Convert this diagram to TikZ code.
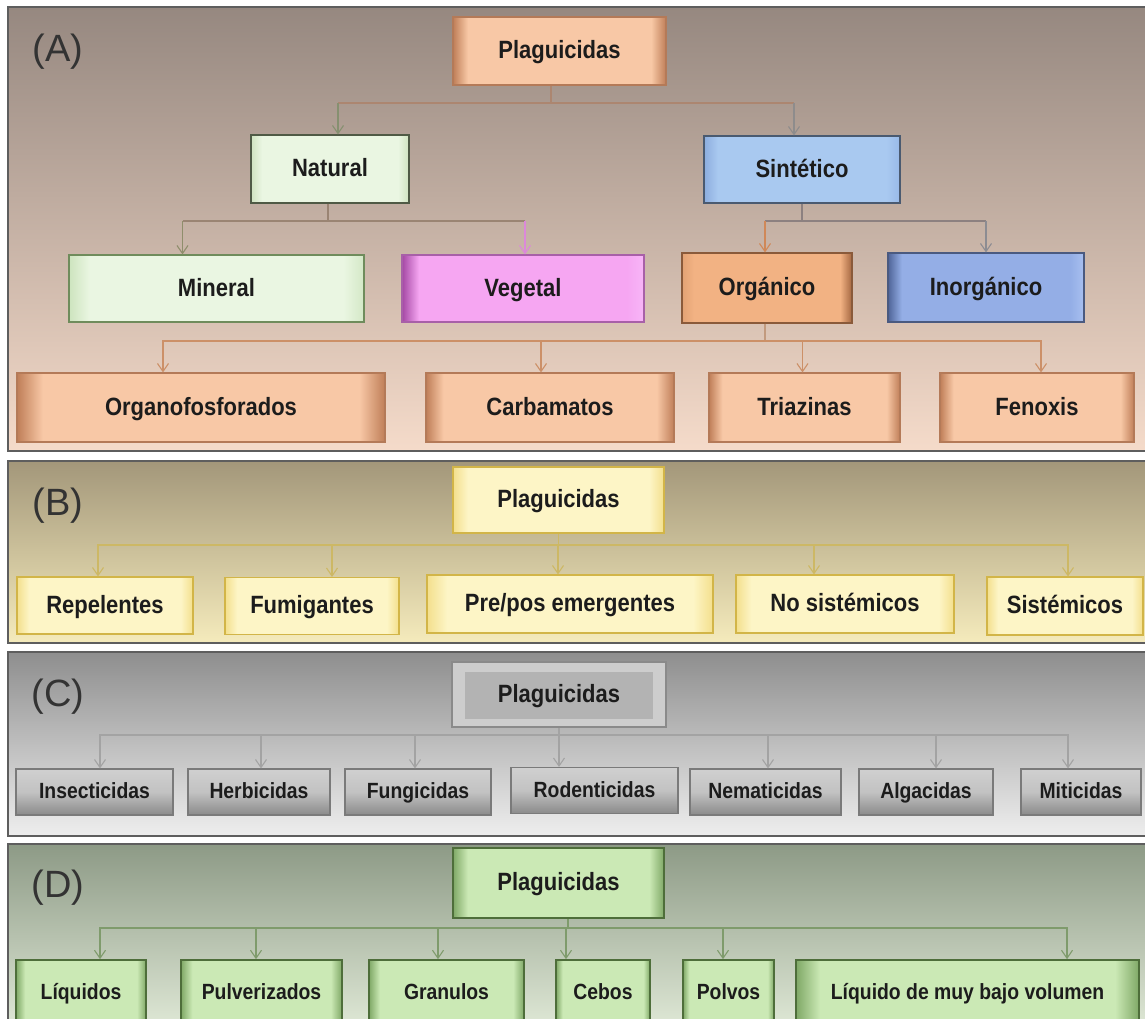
\documentclass[tikz,border=0pt]{standalone}
\usepackage{fontspec}
\setmainfont{Liberation Sans}
\newfontfamily\boxfont{Liberation Sans}[FakeStretch=0.88]
\usetikzlibrary{arrows.meta}
\definecolor{txt}{HTML}{1C1C1C}
\definecolor{lblc}{HTML}{333333}
% box colours
\definecolor{peD}{HTML}{B47A58}\definecolor{peE}{HTML}{BF7E58}\definecolor{peM}{HTML}{F8C8A6}
\definecolor{naD}{HTML}{4F5A45}\definecolor{naE}{HTML}{CFE3C0}\definecolor{naM}{HTML}{EAF6E2}
\definecolor{miD}{HTML}{6F8C5C}\definecolor{miE}{HTML}{CDE4BE}\definecolor{miM}{HTML}{EAF6E2}\definecolor{miR}{HTML}{D3E8C6}
\definecolor{veD}{HTML}{A860A8}\definecolor{veE}{HTML}{A448A4}\definecolor{veM}{HTML}{F6A6F2}\definecolor{veR}{HTML}{F7B6F7}
\definecolor{siD}{HTML}{4A5A70}\definecolor{siE}{HTML}{8CADDE}\definecolor{siM}{HTML}{A9C9F0}\definecolor{siR}{HTML}{98B9E8}
\definecolor{orD}{HTML}{8A5A3A}\definecolor{orE}{HTML}{E2A274}\definecolor{orM}{HTML}{F2B283}\definecolor{orR}{HTML}{A36640}
\definecolor{inD}{HTML}{4A5A80}\definecolor{inE}{HTML}{4F6498}\definecolor{inM}{HTML}{94AEE6}\definecolor{inR}{HTML}{A8C0F0}
\definecolor{yeD}{HTML}{D2B548}\definecolor{yeE}{HTML}{F3DF8C}\definecolor{yeM}{HTML}{FDF5C6}
\definecolor{grD}{HTML}{7A7A7A}\definecolor{grT}{HTML}{D0D0D0}\definecolor{grB}{HTML}{8A8A8A}\definecolor{grM}{HTML}{C2C2C2}
\definecolor{gpD}{HTML}{8A8A8A}\definecolor{gpF}{HTML}{CDCDCD}\definecolor{gpI}{HTML}{B3B3B3}
\definecolor{dgD}{HTML}{4E6E3A}\definecolor{dgE}{HTML}{7FA866}\definecolor{dgM}{HTML}{CBE9B5}
% shading helper colours
\colorlet{bvL}{white}\colorlet{bvM}{white}\colorlet{bvR}{white}
\pgfdeclarehorizontalshading[bvL,bvM,bvR]{bevelsh}{100bp}{color(0bp)=(bvL); color(25bp)=(bvL); color(28.5bp)=(bvM); color(71.5bp)=(bvM); color(75bp)=(bvR); color(100bp)=(bvR)}
% panel colours
\definecolor{paT}{HTML}{968880}\definecolor{paM}{HTML}{CCB2A2}\definecolor{paB}{HTML}{F5DBCA}
\definecolor{pbT}{HTML}{A3977A}\definecolor{pbM}{HTML}{CFC39A}\definecolor{pbB}{HTML}{F5EBBC}
\definecolor{pcT}{HTML}{8E8E8E}\definecolor{pcM}{HTML}{BFBFBF}\definecolor{pcB}{HTML}{EEEEEE}
\definecolor{pdT}{HTML}{8D9A86}\definecolor{pdM}{HTML}{B9C5AF}\definecolor{pdB}{HTML}{E0E9D7}
\definecolor{pline}{HTML}{5E5E5E}
% connector colours
\definecolor{cA}{HTML}{AC8670}\definecolor{cAn}{HTML}{869070}\definecolor{cAs}{HTML}{8E8C8C}
\definecolor{cN}{HTML}{9A8473}\definecolor{cNm}{HTML}{8F8E6C}\definecolor{cNv}{HTML}{DC88DA}
\definecolor{cS}{HTML}{8C8080}\definecolor{cSo}{HTML}{D08858}\definecolor{cSi}{HTML}{8C8C92}
\definecolor{cO}{HTML}{C29A7E}\definecolor{cOa}{HTML}{CC9068}
\definecolor{cB}{HTML}{CDB865}\definecolor{cC}{HTML}{A3A3A3}\definecolor{cD}{HTML}{7F9B6C}
\tikzset{
  box/.style={rectangle, inner sep=0pt, text=txt, line width=1.1pt,
    text height=16.5pt, text depth=1pt,
    font=\boxfont\bfseries\fontsize{25}{28}\selectfont},
  boxsmall/.style={box, text height=14.5pt, text depth=1pt,
    font=\boxfont\bfseries\fontsize{22}{25}\selectfont},
  bevel/.style n args={4}{draw=#1, shade, shading=bevelsh,
    /utils/exec={\colorlet{bvL}{#2}\colorlet{bvM}{#3}\colorlet{bvR}{#4}}},
  peach/.style={box, bevel={peD}{peE}{peM}{peE}},
  natbox/.style={box, bevel={naD}{naE}{naM}{naE}},
  minbox/.style={box, bevel={miD}{miE}{miM}{miR}},
  vegbox/.style={box, bevel={veD}{veE}{veM}{veR}},
  sinbox/.style={box, bevel={siD}{siE}{siM}{siR}},
  orgbox/.style={box, bevel={orD}{orE}{orM}{orR}},
  inobox/.style={box, bevel={inD}{inE}{inM}{inR}},
  ybox/.style={box, bevel={yeD}{yeE}{yeM}{yeE}},
  gbox/.style={boxsmall, draw=grD, top color=grT, bottom color=grB, middle color=grM},
  gplag/.style={box, draw=gpD, fill=gpF,
    path picture={\fill[gpI] ([shift={(13pt,-10pt)}]path picture bounding box.north west) rectangle ([shift={(-13pt,8pt)}]path picture bounding box.south east);}},
  dbox/.style={box, line width=1.6pt, bevel={dgD}{dgE}{dgM}{dgE}},
  dsmall/.style={dbox, text height=14.5pt, text depth=1pt,
    font=\boxfont\bfseries\fontsize{22}{25}\selectfont},
  lbl/.style={inner sep=0pt, text=lblc, font=\fontsize{38}{40}\selectfont},
  ln/.style={line width=1.1pt, draw=#1},
  arr/.style={line width=1.1pt, draw=#1, -{Straight Barb[length=8pt,width=11pt,line width=1.1pt]}},
  panel/.style={draw=pline, line width=1.8pt}
}
\begin{document}
\begin{tikzpicture}[x=1pt,y=-1pt]
\clip (0,0) rectangle (1145,1019);
\fill[white] (0,0) rectangle (1145,1019);
% panel backgrounds
\shade[top color=paT, middle color=paM, bottom color=paB] (8,7) rectangle (1152,451);
\draw[panel] (8,7) rectangle (1152,451);
\shade[top color=pbT, middle color=pbM, bottom color=pbB] (8,461) rectangle (1152,643);
\draw[panel] (8,461) rectangle (1152,643);
\shade[top color=pcT, middle color=pcM, bottom color=pcB] (8,652) rectangle (1152,836);
\draw[panel] (8,652) rectangle (1152,836);
\shade[top color=pdT, middle color=pdM, bottom color=pdB] (8,844) rectangle (1152,1030);
\draw[panel] (8,844) rectangle (1152,1030);

% labels
\node[lbl] (labA) at (58,52) {(A)};
\node[lbl] (labB) at (58,506) {(B)};
\node[lbl] (labC) at (58,697) {(C)};
\node[lbl] (labD) at (58,888) {(D)};

% ---------- Panel A ----------
\node[peach, minimum width=213pt, minimum height=68pt] (plagA) at (559.5,51) {Plaguicidas};
\node[natbox, minimum width=158pt, minimum height=68pt] (natural) at (330,169) {Natural};
\node[sinbox, minimum width=196pt, minimum height=67pt] (sint) at (802,169.5) {Sintético};
\node[minbox, minimum width=295pt, minimum height=67pt] (mineral) at (216.5,288.5) {Mineral};
\node[vegbox, minimum width=242pt, minimum height=67pt] (vegetal) at (523,288.5) {Vegetal};
\node[orgbox, minimum width=170pt, minimum height=70pt] (organico) at (767,288) {Orgánico};
\node[inobox, minimum width=196pt, minimum height=69pt] (inorg) at (986,287.5) {Inorgánico};
\node[peach, minimum width=368pt, minimum height=69pt] (orgfos) at (201,407.5) {Organofosforados};
\node[peach, minimum width=248pt, minimum height=69pt] (carb) at (550,407.5) {Carbamatos};
\node[peach, minimum width=191pt, minimum height=69pt] (triaz) at (804.5,407.5) {Triazinas};
\node[peach, minimum width=194pt, minimum height=69pt] (fenox) at (1037,407.5) {Fenoxis};

\coordinate (bA) at (551,103);
\draw[ln=cA] ([xshift=-8.5pt]plagA.south) -- (bA);
\draw[ln=cA] ([xshift=8pt]natural.north |- bA) -- ([xshift=-8pt]sint.north |- bA);
\draw[arr=cAn] ([xshift=8pt]natural.north |- bA) -- ([xshift=8pt]natural.north);
\draw[arr=cAs] ([xshift=-8pt]sint.north |- bA) -- ([xshift=-8pt]sint.north);

\coordinate (bN) at (328,221);
\draw[ln=cN] ([xshift=-2pt]natural.south) -- (bN);
\draw[ln=cN] ([xshift=-34pt]mineral.north |- bN) -- ([xshift=2pt]vegetal.north |- bN);
\draw[arr=cNm] ([xshift=-34pt]mineral.north |- bN) -- ([xshift=-34pt]mineral.north);
\draw[arr=cNv] ([xshift=2pt]vegetal.north |- bN) -- ([xshift=2pt]vegetal.north);

\coordinate (bS) at (802,221);
\draw[ln=cS] (sint.south) -- (bS);
\draw[ln=cS] ([xshift=-2pt]organico.north |- bS) -- (inorg.north |- bS);
\draw[arr=cSo] ([xshift=-2pt]organico.north |- bS) -- ([xshift=-2pt]organico.north);
\draw[arr=cSi] (inorg.north |- bS) -- (inorg.north);

\coordinate (bO) at (765,341);
\draw[ln=cO] ([xshift=-2pt]organico.south) -- (bO);
\draw[arr=cOa] (bO) -| ([xshift=-38pt]orgfos.north);
\draw[arr=cOa] (bO) -| ([xshift=-9pt]carb.north);
\draw[arr=cOa] (bO) -| ([xshift=-2pt]triaz.north);
\draw[arr=cOa] (bO) -| ([xshift=4pt]fenox.north);

% ---------- Panel B ----------
\node[ybox, minimum width=211pt, minimum height=66pt] (plagB) at (558.5,500) {Plaguicidas};
\node[ybox, minimum width=176pt, minimum height=57pt] (rep) at (105,605.5) {Repelentes};
\node[ybox, minimum width=174pt, minimum height=57pt] (fum) at (312,606) {Fumigantes};
\node[ybox, minimum width=286pt, minimum height=58pt] (pre) at (570,604) {Pre/pos emergentes};
\node[ybox, minimum width=218pt, minimum height=58pt] (nosis) at (845,604) {No sistémicos};
\node[ybox, minimum width=156pt, minimum height=58pt] (sis) at (1065,606) {Sistémicos};

\coordinate (bB) at (558.5,545);
\draw[ln=cB] (plagB.south) -- (bB);
\draw[arr=cB] (bB) -| ([xshift=-7pt]rep.north);
\draw[arr=cB] (bB) -| ([xshift=20pt]fum.north);
\draw[arr=cB] (bB) -| ([xshift=-12pt]pre.north);
\draw[arr=cB] (bB) -| ([xshift=-31pt]nosis.north);
\draw[arr=cB] (bB) -| ([xshift=3pt]sis.north);

% ---------- Panel C ----------
\node[gplag, minimum width=214pt, minimum height=65pt] (plagC) at (559,694.5) {Plaguicidas};
\node[gbox, minimum width=157pt, minimum height=46pt] (ins) at (94.5,792) {Insecticidas};
\node[gbox, minimum width=142pt, minimum height=46pt] (herb) at (259,792) {Herbicidas};
\node[gbox, minimum width=146pt, minimum height=46pt] (fung) at (418,792) {Fungicidas};
\node[gbox, minimum width=167pt, minimum height=46pt] (rod) at (594.5,790.5) {Rodenticidas};
\node[gbox, minimum width=151pt, minimum height=46pt] (nem) at (765.5,792) {Nematicidas};
\node[gbox, minimum width=134pt, minimum height=46pt] (alg) at (926,792) {Algacidas};
\node[gbox, minimum width=120pt, minimum height=46pt] (mit) at (1081,792) {Miticidas};

\coordinate (bC) at (559,735);
\draw[ln=cC] (plagC.south) -- (bC);
\draw[arr=cC] (bC) -| ([xshift=5.5pt]ins.north);
\draw[arr=cC] (bC) -| ([xshift=2pt]herb.north);
\draw[arr=cC] (bC) -| ([xshift=-3pt]fung.north);
\draw[arr=cC] (bC) -| ([xshift=-35.5pt]rod.north);
\draw[arr=cC] (bC) -| ([xshift=2.5pt]nem.north);
\draw[arr=cC] (bC) -| ([xshift=10pt]alg.north);
\draw[arr=cC] (bC) -| ([xshift=-13pt]mit.north);

% ---------- Panel D ----------
\node[dbox, minimum width=211pt, minimum height=70pt] (plagD) at (558.5,883) {Plaguicidas};
\node[dsmall, minimum width=130pt, minimum height=66pt] (liq) at (81,993) {Líquidos};
\node[dsmall, minimum width=161pt, minimum height=66pt] (pulv) at (261.5,993) {Pulverizados};
\node[dsmall, minimum width=155pt, minimum height=66pt] (gran) at (446.5,993) {Granulos};
\node[dsmall, minimum width=94pt, minimum height=66pt] (cebos) at (603,993) {Cebos};
\node[dsmall, minimum width=91pt, minimum height=66pt] (polvos) at (728.5,993) {Polvos};
\node[dsmall, minimum width=343pt, minimum height=66pt] (liqmuy) at (967.5,993) {Líquido de muy bajo volumen};

\coordinate (bD) at (568,928);
\draw[ln=cD] ([xshift=9.5pt]plagD.south) -- (bD);
\draw[arr=cD] (bD) -| ([xshift=19pt]liq.north);
\draw[arr=cD] (bD) -| ([xshift=-5.5pt]pulv.north);
\draw[arr=cD] (bD) -| ([xshift=-8.5pt]gran.north);
\draw[arr=cD] (bD) -| ([xshift=-37pt]cebos.north);
\draw[arr=cD] (bD) -| ([xshift=-5.5pt]polvos.north);
\draw[arr=cD] (bD) -| ([xshift=99.5pt]liqmuy.north);
\end{tikzpicture}
\end{document}
